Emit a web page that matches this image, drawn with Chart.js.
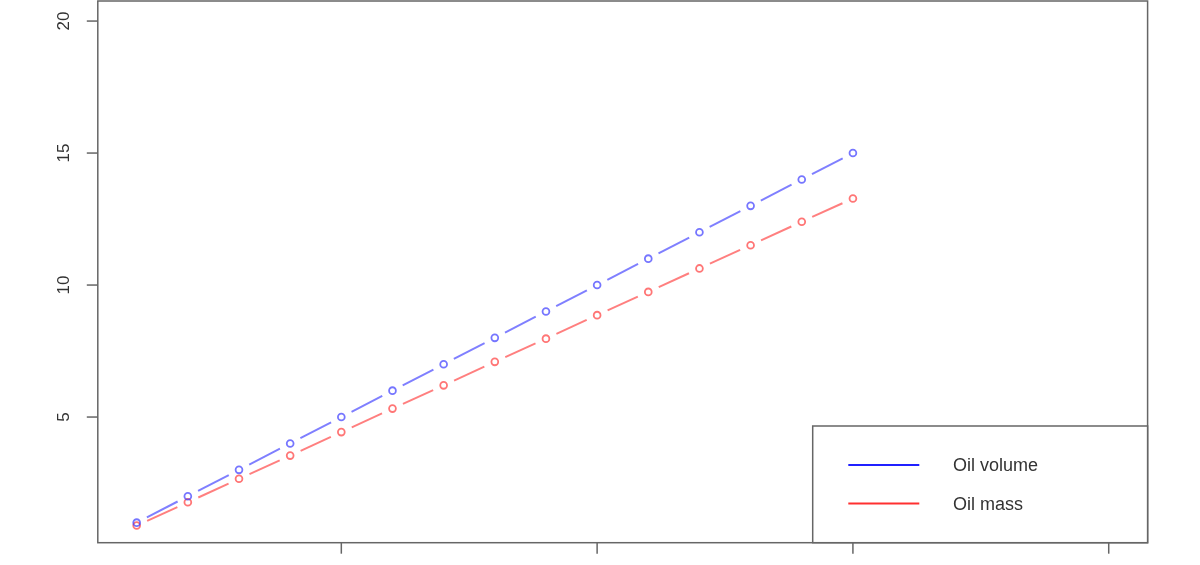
<!DOCTYPE html>
<html>
<head>
<meta charset="utf-8">
<script src="https://cdn.jsdelivr.net/npm/chart.js@4.4.0/dist/chart.umd.min.js"></script>
<style>
  html, body { margin: 0; padding: 0; background: #ffffff; }
  #wrap { width: 1200px; height: 565px; position: relative; }
</style>
</head>
<body>
<div id="wrap"><canvas id="c"></canvas></div>
<script>
// ---- data ----
const xValues = [1, 2, 3, 4, 5, 6, 7, 8, 9, 10, 11, 12, 13, 14, 15];
const oilVolume = [1, 2, 3, 4, 5, 6, 7, 8, 9, 10, 11, 12, 13, 14, 15];
const oilMass = [0.89, 1.77, 2.66, 3.54, 4.43, 5.32, 6.2, 7.09, 7.97, 8.86, 9.74, 10.63, 11.51, 12.4, 13.28];
const seriesNames = ['Oil volume', 'Oil mass'];
const xTicks = [5, 10, 15, 20];
const yTicks = [5, 10, 15, 20];
const xRange = [0.24, 20.76];
const yRange = [0.24, 20.76];

const GAP = 11.5;
function segDist(ctx) {
  const dx = ctx.p1.x - ctx.p0.x, dy = ctx.p1.y - ctx.p0.y;
  return Math.sqrt(dx * dx + dy * dy);
}
const gapSegment = {
  borderDash: ctx => { const d = segDist(ctx); return [Math.max(d - 2 * GAP, 0), 2 * GAP]; },
  borderDashOffset: ctx => segDist(ctx) - GAP
};

function toPts(xs, ys) { return xs.map((x, i) => ({ x: x, y: ys[i] })); }

const frame = {
  id: 'rframe',
  afterDraw(chart) {
    const ctx = chart.ctx;
    const a = chart.chartArea;
    const xs = chart.scales.x, ys = chart.scales.y;
    ctx.save();
    ctx.strokeStyle = '#666666';
    ctx.lineWidth = 1.5;
    ctx.strokeRect(a.left, a.top, a.right - a.left, a.bottom - a.top);
    // y ticks
    ctx.fillStyle = '#333333';
    ctx.font = '17px "Liberation Sans", Arial, sans-serif';
    ctx.textAlign = 'center';
    ctx.textBaseline = 'middle';
    yTicks.forEach(v => {
      const py = ys.getPixelForValue(v);
      ctx.beginPath();
      ctx.moveTo(a.left - 11, py);
      ctx.lineTo(a.left, py);
      ctx.stroke();
      ctx.save();
      ctx.translate(a.left - 33, py);
      ctx.rotate(-Math.PI / 2);
      ctx.fillText(String(v), 0, 0);
      ctx.restore();
    });
    // x ticks
    ctx.textBaseline = 'top';
    xTicks.forEach(v => {
      const px = xs.getPixelForValue(v);
      ctx.beginPath();
      ctx.moveTo(px, a.bottom);
      ctx.lineTo(px, a.bottom + 11);
      ctx.stroke();
      ctx.fillText(String(v), px, a.bottom + 24);
    });
    // legend
    const lx = 812.7, ly = 426, lw = a.right - lx, lh = a.bottom - ly;
    ctx.fillStyle = '#ffffff';
    ctx.fillRect(lx, ly, lw, lh);
    ctx.strokeRect(lx, ly, lw, lh);
    const cols = ['#2020ff', '#ff3030'];
    const rows = [465, 503.5];
    ctx.font = '18px "Liberation Sans", Arial, sans-serif';
    ctx.textAlign = 'left';
    ctx.textBaseline = 'middle';
    seriesNames.forEach((name, i) => {
      ctx.strokeStyle = cols[i];
      ctx.lineWidth = 2.2;
      ctx.beginPath();
      ctx.moveTo(848.3, rows[i]);
      ctx.lineTo(919.3, rows[i]);
      ctx.stroke();
      ctx.fillStyle = '#333333';
      ctx.fillText(name, 953, rows[i] + 1.5);
    });
    ctx.restore();
  }
};

new Chart(document.getElementById('c'), {
  type: 'line',
  data: {
    datasets: [
      {
        label: seriesNames[0],
        data: toPts(xValues, oilVolume),
        borderColor: 'rgba(0,0,255,0.5)',
        borderWidth: 2,
        pointRadius: 3.4,
        pointBorderWidth: 1.8,
        pointBorderColor: 'rgba(60,60,255,0.7)',
        pointBackgroundColor: 'rgba(0,0,0,0)',
        tension: 0,
        segment: gapSegment
      },
      {
        label: seriesNames[1],
        data: toPts(xValues, oilMass),
        borderColor: 'rgba(255,0,0,0.5)',
        borderWidth: 2,
        pointRadius: 3.4,
        pointBorderWidth: 1.8,
        pointBorderColor: 'rgba(255,60,60,0.7)',
        pointBackgroundColor: 'rgba(0,0,0,0)',
        tension: 0,
        segment: gapSegment
      }
    ]
  },
  options: {
    responsive: true,
    maintainAspectRatio: false,
    animation: false,
    layout: { autoPadding: false, padding: { left: 97.8, right: 52.4, top: 1, bottom: 22.3 } },
    plugins: { legend: { display: false }, tooltip: { enabled: false } },
    scales: {
      x: { type: 'linear', min: xRange[0], max: xRange[1], display: false },
      y: { type: 'linear', min: yRange[0], max: yRange[1], display: false }
    }
  },
  plugins: [frame]
});
</script>
</body>
</html>
